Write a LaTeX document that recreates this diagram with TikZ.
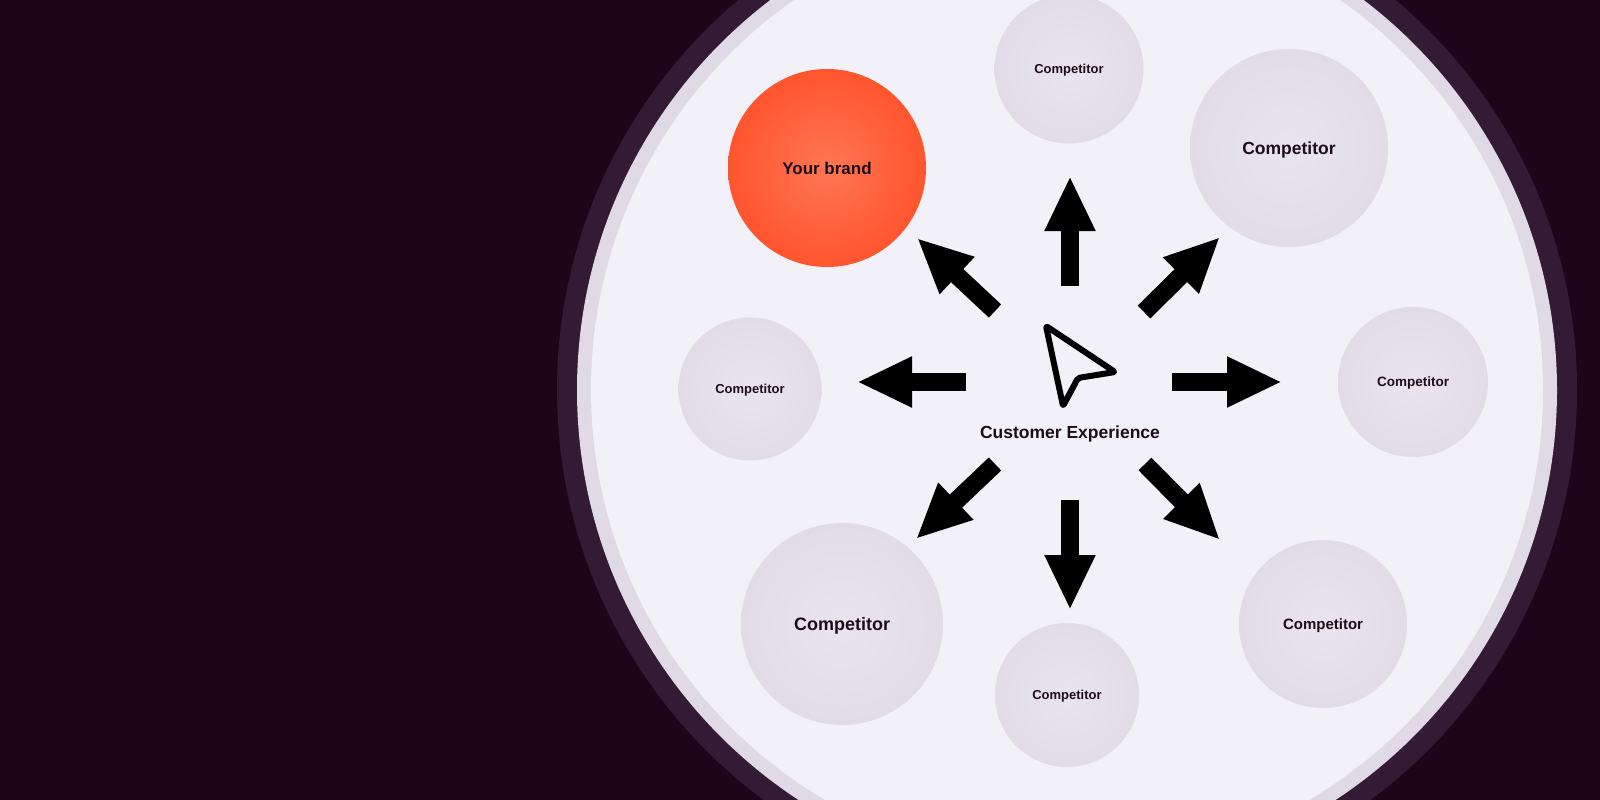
\documentclass[tikz,border=0pt]{standalone}
\usepackage{fontspec}
\setmainfont{Liberation Sans}
\usepackage{xcolor}
\definecolor{cxnight}{RGB}{29,6,25}
\definecolor{cxring}{RGB}{51,27,51}
\definecolor{cxlilac}{RGB}{224,218,231}
\definecolor{cxpale}{RGB}{242,241,247}
\definecolor{cxdisc}{RGB}{225,220,232}
\definecolor{cxdiscin}{RGB}{233,229,239}
\definecolor{cxorange}{RGB}{255,85,46}
\definecolor{cxorangein}{RGB}{255,118,84}
\definecolor{cxink}{RGB}{30,12,28}
\usetikzlibrary{arrows.meta, positioning, shapes.geometric}

\tikzset{
  rival/.style={circle, inner sep=0pt, text depth=0pt, shading=radial, inner color=cxdiscin,
                outer color=cxdisc, text=cxink},
  brand/.style={circle, inner sep=0pt, text depth=0pt, shading=radial, inner color=cxorangein,
                outer color=cxorange, text=cxink},
  bigarrow/.style={black, line width=18pt, -{Triangle[length=55pt, width=47pt]}}
}

\begin{document}
\begin{tikzpicture}[x=1pt, y=-1pt]

\useasboundingbox (0,0) rectangle (1600,800);
\clip (0,0) rectangle (1600,800);

% --- Background and ring ---
\fill[cxnight] (0,0) rectangle (1600,800);
\fill[cxring] (1067,390) circle (510);
\fill[cxlilac] (1067,390) circle (490);
\fill[cxpale] (1067,390) circle (476);

% --- Brand and competitors ---
\node[brand, minimum size=198pt, font=\fontsize{17}{20}\selectfont\bfseries] (brand) at (827,168) {Your brand};

\node[rival, minimum size=149pt, font=\fontsize{13}{15}\selectfont\bfseries] (compN) at (1069,69) {Competitor};
\node[rival, minimum size=198pt, font=\fontsize{17.5}{20}\selectfont\bfseries] (compNE) at (1289,148) {Competitor};
\node[rival, minimum size=150pt, font=\fontsize{13.5}{16}\selectfont\bfseries] (compE) at (1413,382) {Competitor};
\node[rival, minimum size=168pt, font=\fontsize{15}{18}\selectfont\bfseries] (compSE) at (1323,624) {Competitor};
\node[rival, minimum size=144pt, font=\fontsize{13}{15}\selectfont\bfseries] (compS) at (1067,695) {Competitor};
\node[rival, minimum size=202pt, font=\fontsize{18}{21}\selectfont\bfseries] (compSW) at (842,624) {Competitor};
\node[rival, minimum size=143pt, font=\fontsize{13}{15}\selectfont\bfseries] (compW) at (750,389) {Competitor};

% --- Cursor in the middle ---
\draw[black, line width=6pt, line join=round, rounded corners=2pt]
     (1046,326) -- (1115,372) -- (1078,378) -- (1063,406) -- cycle;
\node[text=cxink, text depth=0pt, font=\fontsize{17.5}{20}\selectfont\bfseries] (cx) at (1070,432) {Customer Experience};

% --- Arrows out to the circles ---
\foreach \nm/\tx/\ty/\hx/\hy in {up/1070/286/1070/176, dn/1070/500/1070/610,
    lf/966/382/857/382, rt/1172/382/1282/382,
    ul/995/311/917/238, ur/1144/312/1220/237,
    dl/995/464/916/539, dr/1145/464/1220/540}{
  \coordinate (\nm-t) at (\tx,\ty);
  \coordinate (\nm-h) at (\hx,\hy);
  \draw[bigarrow] (\nm-t) -- (\nm-h);
}

\end{tikzpicture}
\end{document}
